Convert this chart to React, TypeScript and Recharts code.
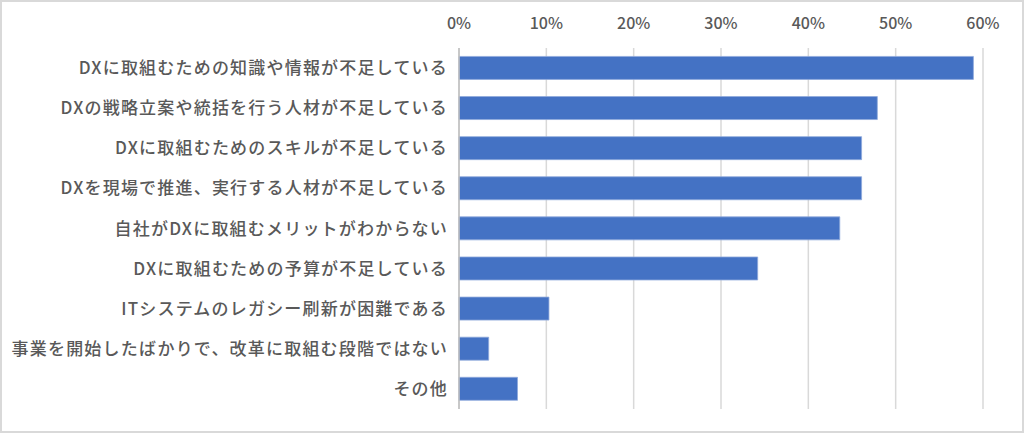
import React from "react";
import { BarChart, Bar, XAxis, YAxis, CartesianGrid } from "recharts";

/** Survey answers, top to bottom. */
const CATEGORIES = [
  "DXに取組むための知識や情報が不足している",
  "DXの戦略立案や統括を行う人材が不足している",
  "DXに取組むためのスキルが不足している",
  "DXを現場で推進、実行する人材が不足している",
  "自社がDXに取組むメリットがわからない",
  "DXに取組むための予算が不足している",
  "ITシステムのレガシー刷新が困難である",
  "事業を開始したばかりで、改革に取組む段階ではない",
  "その他",
];

/** Share of respondents (0-1). */
const VALUES = [0.589, 0.479, 0.461, 0.461, 0.436, 0.342, 0.103, 0.034, 0.067];

/** X axis ticks. */
const TICKS = [0, 0.1, 0.2, 0.3, 0.4, 0.5, 0.6];

const BAR_COLOR = "#4472C4";
const TEXT_COLOR = "#595959";
const GRID_COLOR = "#d9d9d9";
const FONT = '"Noto Sans CJK JP", "Noto Sans", sans-serif';

const chartData = CATEGORIES.map((name, i) => ({ name, value: VALUES[i] }));

export default function App() {
  return (
    <div
      style={{
        position: "absolute",
        left: 0,
        top: 0,
        width: 1024,
        height: 433,
        boxSizing: "border-box",
        border: `2px solid ${GRID_COLOR}`,
        background: "#fff",
        fontFamily: FONT,
      }}
    >
      <div style={{ position: "absolute", left: -2, top: -2 }}>
        <BarChart
          width={1024}
          height={433}
          data={chartData}
          layout="vertical"
          margin={{ top: 0, right: 41, bottom: 24, left: 0 }}
          barCategoryGap="21%"
        >
          <CartesianGrid
            horizontal={false}
            stroke={GRID_COLOR}
            strokeWidth={1.5}
          />
          <XAxis
            type="number"
            orientation="top"
            domain={[0, 0.6]}
            ticks={TICKS}
            tickFormatter={(v: number) => `${Math.round(v * 100)}%`}
            tick={{
              fill: TEXT_COLOR,
              fontSize: 16,
              fontFamily: FONT,
              fontWeight: 500,
            }}
            axisLine={false}
            tickLine={false}
            tickMargin={13}
            height={48}
          />
          <YAxis
            type="category"
            dataKey="name"
            width={459}
            interval={0}
            tick={{
              fill: TEXT_COLOR,
              fontSize: 17,
              fontFamily: FONT,
              fontWeight: 500,
              letterSpacing: 1.2,
            }}
            axisLine={{ stroke: "#bfbfbf", strokeWidth: 1.5 }}
            tickLine={false}
            tickMargin={5}
          />
          <Bar
            dataKey="value"
            fill={BAR_COLOR}
            stroke="#8faadc"
            strokeWidth={0.8}
            isAnimationActive={false}
          />
        </BarChart>
      </div>
    </div>
  );
}
